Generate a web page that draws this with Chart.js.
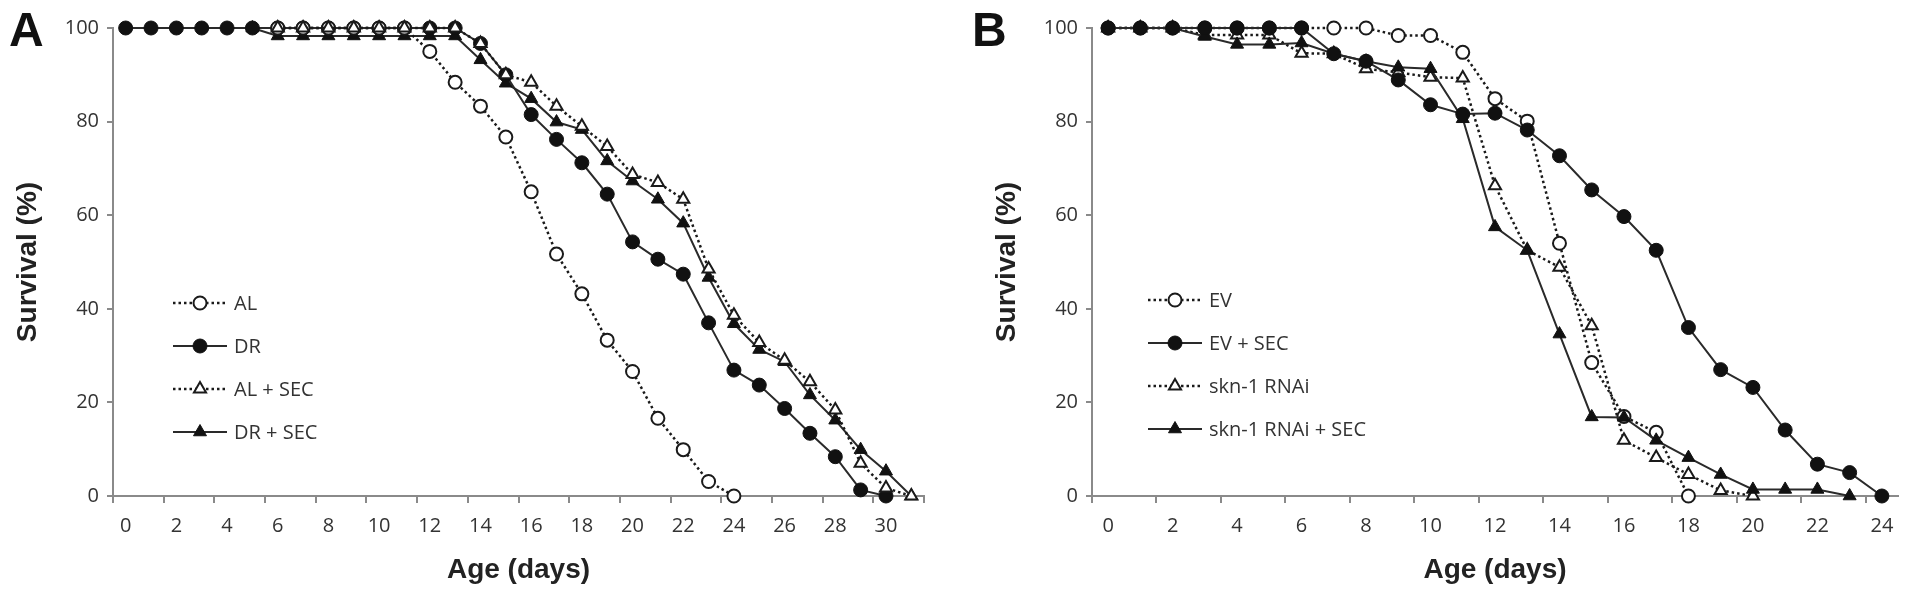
<!DOCTYPE html>
<html lang="en">
<head>
  <meta charset="UTF-8" />
  <title>Survival curves A / B</title>
  <script src="https://cdn.jsdelivr.net/npm/chart.js"></script>
  <style>
    body { margin: 0; background: #fff; width: 1913px; height: 604px; overflow: hidden; position: relative; }
    .panel { position: absolute; top: 0; }
    .letter { position: absolute; top: 2px; font: bold 48px "Liberation Sans", Arial, sans-serif; color: #111; }
  </style>
</head>
<body>

  <div class="panel" style="left:0"><canvas id="chartA" width="956" height="604"></canvas></div>
  <div class="panel" style="left:956px"><canvas id="chartB" width="957" height="604"></canvas></div>
  <div class="letter" style="left:9px">A</div>
  <div class="letter" style="left:972px">B</div>

  <script>
    // panel A: days 0..31
    const daysA = ['0','1','2','3','4','5','6','7','8','9','10','11','12','13','14','15',
                   '16','17','18','19','20','21','22','23','24','25','26','27','28','29','30','31'];
    const alA    = [null,null,null,null,null,null,100,100,100,100,100,100,95,88.4,83.3,76.7,
                    65,51.7,43.2,33.3,26.6,16.6,9.9,3.1,0,null,null,null,null,null,null,null];
    const drA    = [100,100,100,100,100,100,100,100,100,100,100,100,100,100,96.7,90,
                    81.5,76.2,71.2,64.5,54.3,50.6,47.4,37,26.9,23.7,18.7,13.4,8.4,1.3,0,null];
    const alSecA = [null,null,null,null,null,null,100,100,100,100,100,100,100,100,96.7,90,
                    88.4,83.3,79,74.7,68.7,67,63.4,48.5,38.6,32.8,29,24.4,18.4,7,1.7,0];
    const drSecA = [null,null,null,null,null,100,98.3,98.3,98.3,98.3,98.3,98.3,98.3,98.3,93.2,88.2,
                    84.9,79.9,78.3,71.6,67.3,63.4,58.3,46.7,36.8,31.3,28.7,21.6,16.2,9.9,5.3,0];

    // panel B: days 0..24
    const daysB = ['0','1','2','3','4','5','6','7','8','9','10','11','12',
                   '13','14','15','16','17','18','19','20','21','22','23','24'];
    const evB      = [100,100,100,100,100,100,100,100,100,98.4,98.4,94.8,84.9,
                      80.1,54,28.5,17,13.6,0,null,null,null,null,null,null];
    const evSecB   = [100,100,100,100,100,100,100,94.5,92.9,88.9,83.6,81.6,81.8,
                      78.2,72.7,65.4,59.7,52.5,36,27,23.2,14.1,6.8,5,0];
    const sknB     = [100,100,100,98.5,98.5,98.5,94.6,94.5,91.3,90.5,89.5,89.3,66.3,
                      52.5,48.9,36.4,11.9,8.2,4.6,1.2,0,null,null,null,null];
    const sknSecB  = [100,100,100,98.2,96.5,96.5,96.8,94.5,92.9,91.6,91.3,80.6,57.5,
                      52.5,34.6,16.9,16.8,11.9,8.2,4.6,1.4,1.4,1.4,0,null];

    const axisGray = '#8a8a8a';
    const textGray = '#333';
    const dotted = [2.5, 3];

    const marks = {
      openCircle:  { pointStyle: 'circle',   pointRadius: 6.5, pointBackgroundColor: '#fff', pointBorderColor: '#1a1a1a', pointBorderWidth: 2 },
      fullCircle:  { pointStyle: 'circle',   pointRadius: 7,   pointBackgroundColor: '#111', pointBorderColor: '#111',    pointBorderWidth: 1 },
      openTri:     { pointStyle: 'triangle', pointRadius: 7,   pointBackgroundColor: '#fff', pointBorderColor: '#1a1a1a', pointBorderWidth: 2 },
      fullTri:     { pointStyle: 'triangle', pointRadius: 7.5, pointBackgroundColor: '#111', pointBorderColor: '#111',    pointBorderWidth: 1 }
    };

    function series(label, data, mark, isDotted, order) {
      return Object.assign({
        label: label,
        data: data,
        borderColor: isDotted ? '#1a1a1a' : '#2a2a2a',
        borderWidth: isDotted ? 2.5 : 2,
        borderDash: isDotted ? dotted : [],
        tension: 0,
        fill: false,
        clip: false,
        order: order
      }, marks[mark]);
    }

    // legend drawn inside the plot, line + marker + label
    const inlineLegend = {
      id: 'inlineLegend',
      afterDatasetsDraw(chart, args, opts) {
        const { ctx, chartArea } = chart;
        const x0 = chartArea.left + opts.left;
        ctx.save();
        chart.data.datasets.forEach((ds, i) => {
          const y = chartArea.top + opts.top + i * opts.gap;
          ctx.strokeStyle = ds.borderColor;
          ctx.lineWidth = ds.borderWidth;
          ctx.setLineDash(ds.borderDash);
          ctx.beginPath();
          ctx.moveTo(x0, y);
          ctx.lineTo(x0 + opts.lineLen, y);
          ctx.stroke();
          ctx.setLineDash([]);
          ctx.fillStyle = ds.pointBackgroundColor;
          ctx.strokeStyle = ds.pointBorderColor;
          ctx.lineWidth = ds.pointBorderWidth;
          Chart.helpers.drawPoint(ctx, {
            pointStyle: ds.pointStyle, radius: ds.pointRadius,
            borderWidth: ds.pointBorderWidth, rotation: 0
          }, x0 + opts.lineLen / 2, y);
          ctx.fillStyle = textGray;
          ctx.font = '20px "Open Sans"';
          ctx.textBaseline = 'middle';
          ctx.textAlign = 'left';
          ctx.fillText(ds.label, x0 + opts.lineLen + 7, y + 1);
        });
        ctx.restore();
      }
    };

    function makeChart(id, labels, datasets, padLeft, padRight, legendLeft, legendTop, endTick) {
      const titleFont = { family: 'Liberation Sans', size: 28, weight: 'bold' };
      const tickFont = { family: 'Open Sans', size: 20 };
      return new Chart(document.getElementById(id), {
        type: 'line',
        data: { labels: labels, datasets: datasets },
        plugins: [inlineLegend],
        options: {
          responsive: false,
          animation: false,
          layout: { padding: { left: padLeft, right: padRight, top: 28, bottom: 13 } },
          plugins: {
            legend: { display: false },
            tooltip: { enabled: false },
            inlineLegend: { left: legendLeft, top: legendTop, gap: 43, lineLen: 54 }
          },
          scales: {
            x: {
              type: 'category',
              offset: true,
              afterFit: s => { s.height = 95; },
              border: { color: axisGray, width: 2 },
              grid: {
                offset: true,
                drawOnChartArea: false,
                tickLength: 7,
                lineWidth: 2,
                color: c => {
                  const i = c.index === undefined ? (endTick ? 0 : 1) : c.index;
                  return i % 2 === 0 ? axisGray : 'rgba(0,0,0,0)';
                }
              },
              ticks: {
                autoSkip: false,
                maxRotation: 0,
                padding: 11,
                color: textGray,
                font: tickFont,
                callback: function (v, i) { return i % 2 === 0 ? this.getLabelForValue(v) : ''; }
              },
              title: { display: true, text: 'Age (days)', color: '#222', font: titleFont, padding: 4 }
            },
            y: {
              min: 0,
              max: 100,
              afterFit: s => { s.width = 106; },
              border: { color: axisGray, width: 2 },
              grid: { drawOnChartArea: false, tickLength: 6, lineWidth: 2, color: axisGray },
              ticks: { stepSize: 20, padding: 8, color: textGray, font: tickFont },
              title: { display: true, text: 'Survival (%)', color: '#222', font: titleFont, padding: 4 }
            }
          }
        }
      });
    }

    makeChart('chartA', daysA, [
      series('AL', alA, 'openCircle', true, 1),
      series('DR', drA, 'fullCircle', false, 2),
      series('AL + SEC', alSecA, 'openTri', true, 0),
      series('DR + SEC', drSecA, 'fullTri', false, 3)
    ], 7, 32, 60, 275, true);

    makeChart('chartB', daysB, [
      series('EV', evB, 'openCircle', true, 2),
      series('EV + SEC', evSecB, 'fullCircle', false, 0),
      series('skn-1 RNAi', sknB, 'openTri', true, 3),
      series('skn-1 RNAi + SEC', sknSecB, 'fullTri', false, 1)
    ], 30, 15, 56, 272, false);
  </script>

</body>
</html>
